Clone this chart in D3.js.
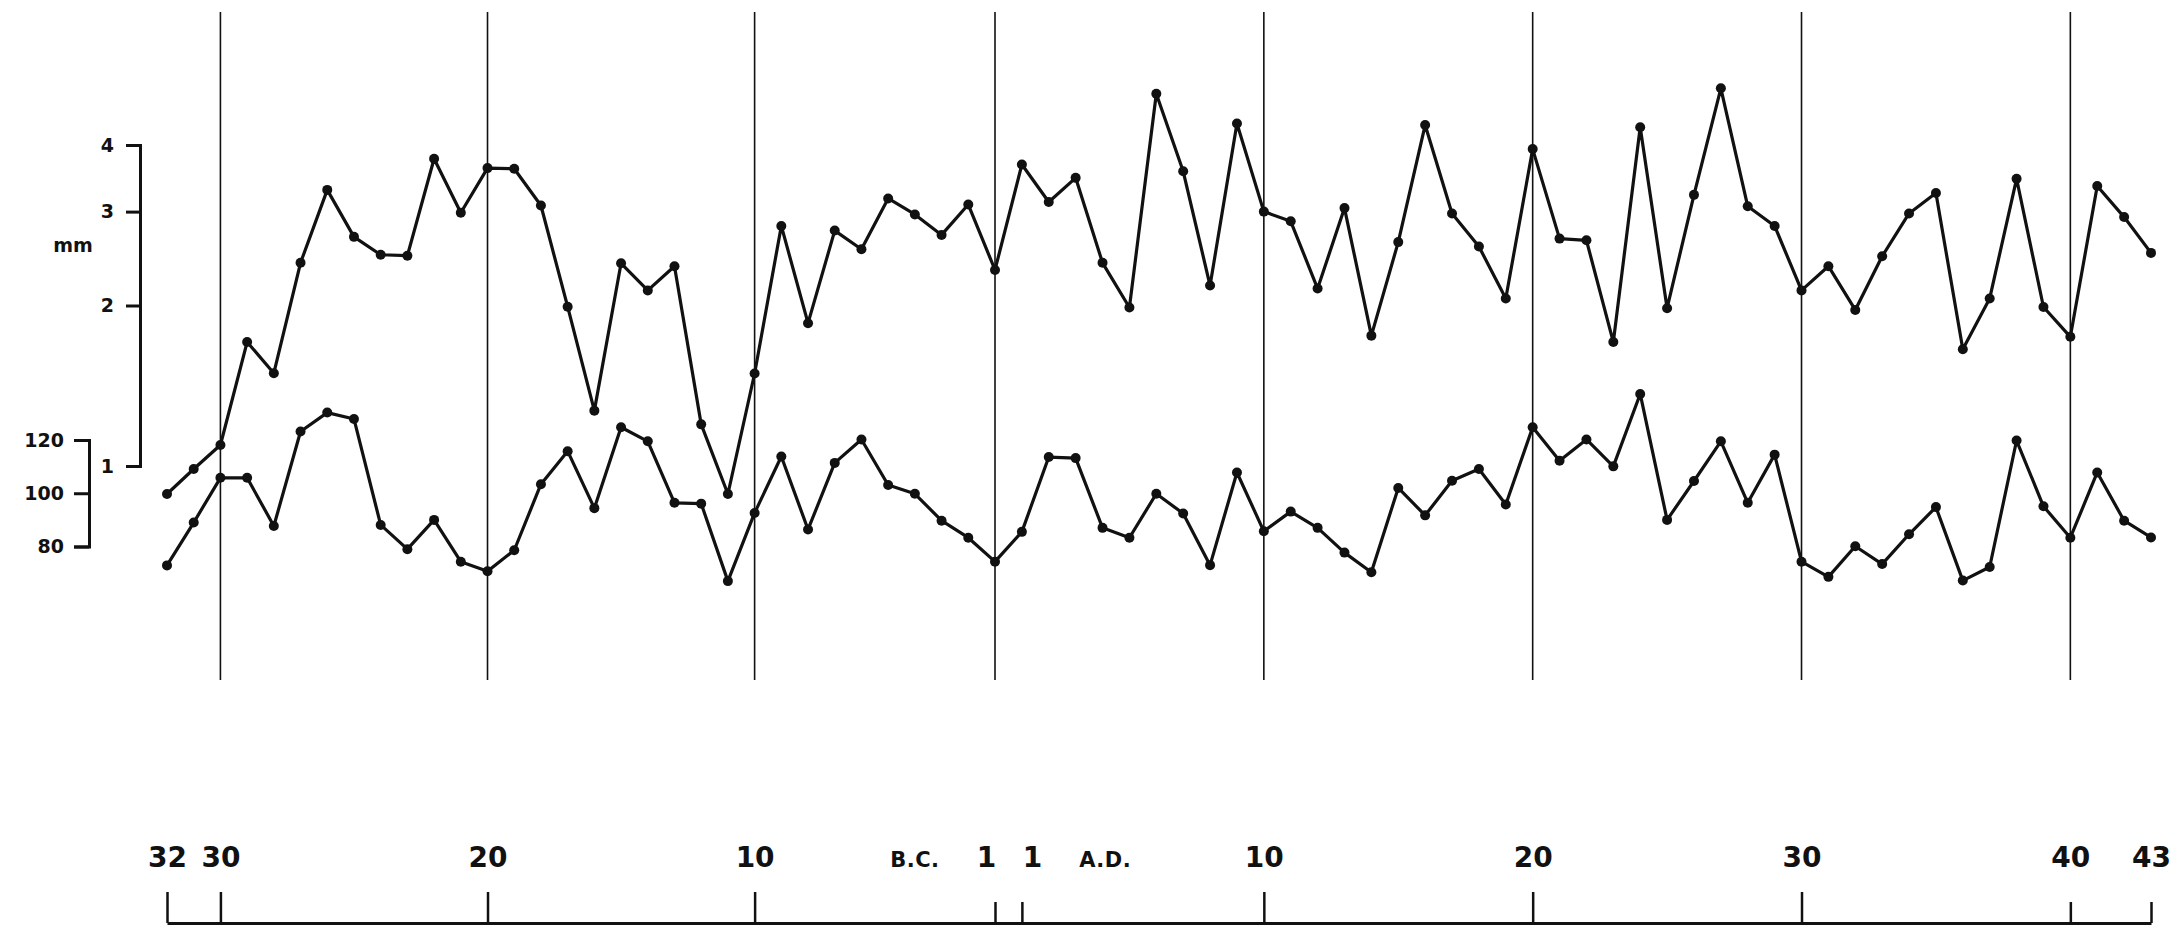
<!DOCTYPE html>
<meta charset="utf-8">
<script src="https://d3js.org/d3.v7.min.js"></script>
<style>
  body { margin: 0; background: #fff; }
  text { font-family: "DejaVu Sans", sans-serif; font-weight: bold; fill: #111; }
</style>
<div id="chart"></div>
<script>

// years use astronomical numbering: 1 B.C. = 0, 32 B.C. = -31, then 1 A.D. .. 43 A.D.
var years = d3.range(-31, 1).concat(d3.range(1, 44));

// ring width, mm (upper curve), 32 B.C. .. 1 B.C.
var widthBC = [0.886, 0.987, 1.095, 1.708, 1.493, 2.405, 3.295, 2.69, 2.49, 2.48,
  3.77, 2.985, 3.62, 3.61, 3.08, 1.99, 1.27, 2.40, 2.135, 2.37,
  1.197, 0.886, 1.491, 2.82, 1.853, 2.764, 2.55, 3.175, 2.963, 2.713,
  3.093, 2.332];
// 1 A.D. .. 43 A.D.
var widthAD = [3.677, 3.127, 3.471, 2.405, 1.983, 4.99, 3.57, 2.18, 4.39, 3.00,
  2.877, 2.152, 3.046, 1.756, 2.63, 4.36, 2.976, 2.58, 2.062, 3.93,
  2.67, 2.65, 1.708, 4.32, 1.977, 3.225, 5.11, 3.07, 2.82, 2.135,
  2.37, 1.962, 2.474, 2.976, 3.25, 1.656, 2.062, 3.457, 1.987, 1.747,
  3.35, 2.93, 2.51];

// ring width index (lower curve)
var indexBC = [72.9, 89.0, 105.8, 105.8, 87.7, 123.2, 130.3, 127.9, 88.1, 79.0,
  90.0, 74.3, 70.7, 78.6, 103.4, 115.8, 94.4, 124.8, 119.5, 96.4,
  96.1, 67.0, 92.6, 113.8, 86.4, 111.4, 120.2, 103.1, 99.8, 89.7,
  83.3, 74.3];
var indexAD = [85.5, 113.6, 113.2, 87.0, 83.3, 99.8, 92.4, 73.0, 107.8, 85.7,
  93.1, 87.0, 77.7, 70.3, 102.0, 91.7, 104.7, 109.1, 95.8, 124.8,
  112.2, 120.2, 110.1, 137.3, 90.0, 104.6, 119.5, 96.4, 114.5, 74.3,
  68.6, 80.1, 73.4, 84.6, 94.8, 67.2, 72.3, 119.8, 95.1, 83.3,
  107.8, 89.7, 83.4];

var mmTicks = [1, 2, 3, 4];
var indexTicks = [80, 100, 120];
var gridYears = [-29, -19, -9, 0, 10, 20, 30, 40];
var axisYears = [-31, -29, -19, -9, 0, 1, 10, 20, 30, 40, 43];
var axisLabels = ["32", "30", "20", "10", "1", "1", "10", "20", "30", "40", "43"];
var eraLabels = [{year: -3, text: "B.C."}, {year: 4.1, text: "A.D."}];

var W = 2178, H = 931;

var svg = d3.select("#chart").append("svg")
  .attr("width", W)
  .attr("height", H);

svg.append("rect").attr("width", W).attr("height", H).attr("fill", "#fff");

// scales
var x = d3.scaleLinear().domain([-31, 0, 43]).range([167, 995, 2151]);
var yMm = d3.scaleLog().domain([1, 4]).range([466, 145]);
var yIdx = d3.scaleLinear().domain([80, 120]).range([546.5, 440]);

var widths = widthBC.concat(widthAD).map(function(v, i) { return {year: years[i], v: v}; });
var indexes = indexBC.concat(indexAD).map(function(v, i) { return {year: years[i], v: v}; });

// vertical year lines
svg.selectAll(".grid")
  .data(gridYears)
  .enter()
  .append("line")
  .attr("x1", function(d) { return x(d); })
  .attr("x2", function(d) { return x(d); })
  .attr("y1", 12)
  .attr("y2", 680)
  .style("stroke", "#111")
  .style("stroke-width", 1.6);

// left axes (bracket style)
var mmAxis = d3.axisLeft(yMm)
  .tickValues(mmTicks)
  .tickFormat(d3.format("d"))
  .tickSize(14)
  .tickPadding(12);
var gMm = svg.append("g").attr("transform", "translate(140,0)").call(mmAxis);

var idxAxis = d3.axisLeft(yIdx)
  .tickValues(indexTicks)
  .tickSize(15)
  .tickPadding(10);
var gIdx = svg.append("g").attr("transform", "translate(89,0)").call(idxAxis);

[gMm, gIdx].forEach(function(g) {
  g.select(".domain").style("stroke", "#111").style("stroke-width", 3).style("fill", "none");
  g.selectAll(".tick line").style("stroke", "#111").style("stroke-width", 3);
  g.selectAll(".tick text")
    .style("font-size", "19px")
    .style("font-family", "DejaVu Sans")
    .style("font-weight", "bold")
    .style("fill", "#111");
});

svg.append("text")
  .attr("x", 73)
  .attr("y", 252)
  .attr("text-anchor", "middle")
  .style("font-size", "19px")
  .text("mm");

// curves
var lineMm = d3.line().x(function(d) { return x(d.year); }).y(function(d) { return yMm(d.v); });
var lineIdx = d3.line().x(function(d) { return x(d.year); }).y(function(d) { return yIdx(d.v); });

svg.append("path")
  .datum(widths)
  .attr("d", lineMm)
  .style("fill", "none")
  .style("stroke", "#111")
  .style("stroke-width", 3.2)
  .style("stroke-linejoin", "round");

svg.append("path")
  .datum(indexes)
  .attr("d", lineIdx)
  .style("fill", "none")
  .style("stroke", "#111")
  .style("stroke-width", 3.2)
  .style("stroke-linejoin", "round");

svg.selectAll(".dotMm")
  .data(widths)
  .enter()
  .append("circle")
  .attr("cx", function(d) { return x(d.year); })
  .attr("cy", function(d) { return yMm(d.v); })
  .attr("r", 5)
  .style("fill", "#111");

svg.selectAll(".dotIdx")
  .data(indexes)
  .enter()
  .append("circle")
  .attr("cx", function(d) { return x(d.year); })
  .attr("cy", function(d) { return yIdx(d.v); })
  .attr("r", 5)
  .style("fill", "#111");

// bottom time axis, ticks pointing up
var timeAxis = d3.axisTop(x)
  .tickValues(axisYears)
  .tickSize(31)
  .tickSizeOuter(0)
  .tickPadding(25)
  .tickFormat(function(d, i) { return axisLabels[i]; });

var gTime = svg.append("g").attr("transform", "translate(0,923)").call(timeAxis);
gTime.select(".domain").style("stroke", "#111").style("stroke-width", 3);
gTime.selectAll(".tick line")
  .style("stroke", "#111")
  .style("stroke-width", 2.5)
  .attr("y2", function(d) { return (d === 0 || d === 1 || d >= 40) ? -21 : -31; });
gTime.selectAll(".tick text")
  .style("font-size", "28px")
  .style("font-family", "DejaVu Sans")
  .style("font-weight", "bold")
  .style("fill", "#111")
  .attr("dx", function(d) { return d === 0 ? -9 : (d === 1 ? 10 : 0); });

svg.selectAll(".era")
  .data(eraLabels)
  .enter()
  .append("text")
  .attr("x", function(d) { return x(d.year); })
  .attr("y", 867)
  .attr("text-anchor", "middle")
  .style("font-size", "21px")
  .style("letter-spacing", "0.5px")
  .text(function(d) { return d.text; });

</script>
